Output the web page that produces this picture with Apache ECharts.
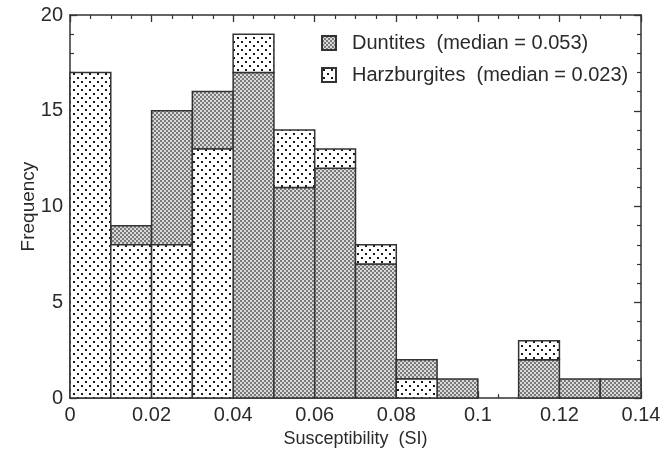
<!DOCTYPE html>
<html>
<head>
<meta charset="utf-8">
<script src="https://cdn.jsdelivr.net/npm/echarts@6/dist/echarts.min.js"></script>
<style>
  html, body { margin: 0; padding: 0; background: #fff; }
  #chart { width: 672px; height: 453px; }
</style>
</head>
<body>
<div id="chart"></div>
<script>
// histogram bins, width 0.01
var binStarts = [0, 0.01, 0.02, 0.03, 0.04, 0.05, 0.06, 0.07, 0.08, 0.09, 0.10, 0.11, 0.12, 0.13];
var binWidth = 0.01;
var duntites = [0, 1, 7, 3, 17, 11, 12, 7, 1, 1, 0, 2, 1, 1];
var harzburgites = [17, 8, 8, 13, 2, 3, 1, 1, 1, 0, 0, 1, 0, 0];
var legendNames = ['Duntites  (median = 0.053)', 'Harzburgites  (median = 0.023)'];

var font = 'Liberation Sans, Arial, Helvetica, sans-serif';
var ink = '#2a2a2a';

function makePattern(size, bg, dots) {
  var c = document.createElement('canvas');
  c.width = size; c.height = size;
  var ctx = c.getContext('2d');
  ctx.fillStyle = bg;
  ctx.fillRect(0, 0, size, size);
  dots.forEach(function (d) {
    ctx.fillStyle = d[3];
    ctx.fillRect(d[0], d[1], d[2], d[2]);
  });
  return { type: 'pattern', image: c, repeat: 'repeat' };
}

// fine grey checker for duntites
var duniteFill = makePattern(4, '#dadada', [
  [0, 0, 2, '#7a7a7a'], [2, 2, 2, '#7a7a7a']
]);
// sparse staggered dots for harzburgites
var harzFill = makePattern(8, '#ffffff', [
  [1, 1, 2, '#1a1a1a'], [5, 5, 2, '#1a1a1a']
]);

// larger group sits at the bottom of each bar
function segments(which) {
  var out = [];
  binStarts.forEach(function (x0, i) {
    var d = duntites[i], h = harzburgites[i];
    var hBottom = h >= d;
    var base, v;
    if (which === 'd') { v = d; base = hBottom ? h : 0; }
    else { v = h; base = hBottom ? 0 : d; }
    if (v > 0) out.push([x0, x0 + binWidth, base, base + v]);
  });
  return out;
}

function renderBar(fill) {
  return function (params, api) {
    var p0 = api.coord([api.value(0), api.value(2)]);
    var p1 = api.coord([api.value(1), api.value(3)]);
    return {
      type: 'rect',
      shape: { x: p0[0], y: p1[1], width: p1[0] - p0[0], height: p0[1] - p1[1] },
      style: { fill: fill, stroke: '#333', lineWidth: 1.5 }
    };
  };
}

function axisCommon(extra, split) {
  var base = {
    type: 'value',
    axisLine: { show: true, onZero: false, lineStyle: { color: '#333', width: 1.5 } },
    axisTick: { show: true, inside: true, length: 7, lineStyle: { color: '#333', width: 1.3 } },
    minorTick: { show: true, splitNumber: split, length: 4, lineStyle: { color: '#333', width: 1.2 } },
    splitLine: { show: false },
    minorSplitLine: { show: false },
    axisLabel: { show: false }
  };
  return Object.assign(base, extra);
}

var xLabel = { show: true, fontSize: 20, color: ink, fontFamily: font, margin: 7,
  formatter: function (v) { return String(+v.toFixed(2)); } };
var yLabel = { show: true, fontSize: 20, color: ink, fontFamily: font, margin: 7 };

var chart = echarts.init(document.getElementById('chart'), null, { renderer: 'canvas' });
chart.setOption({
  animation: false,
  backgroundColor: '#fff',
  grid: { left: 70, right: 31, top: 15, bottom: 48 },
  legend: {
    left: 316, top: 28,
    orient: 'vertical',
    itemWidth: 14, itemHeight: 14, itemGap: 12,
    icon: 'rect',
    textStyle: { fontSize: 20, color: ink, fontFamily: font, padding: [0, 0, 0, 11] },
    data: legendNames
  },
  xAxis: [
    axisCommon({ min: 0, max: 0.14, interval: 0.02, position: 'bottom',
      axisLabel: xLabel,
      name: 'Susceptibility  (SI)', nameLocation: 'middle', nameGap: 26,
      nameTextStyle: { fontSize: 18, color: ink, fontFamily: font } }, 4),
    axisCommon({ min: 0, max: 0.14, interval: 0.02, position: 'top' }, 4)
  ],
  yAxis: [
    axisCommon({ min: 0, max: 20, interval: 5, position: 'left',
      axisLabel: yLabel,
      name: 'Frequency', nameLocation: 'middle', nameGap: 32, nameMoveOverlap: false,
      nameTextStyle: { fontSize: 19, color: ink, fontFamily: font } }, 5),
    axisCommon({ min: 0, max: 20, interval: 5, position: 'right' }, 5)
  ],
  series: [
    {
      name: legendNames[0],
      type: 'custom',
      xAxisIndex: 0, yAxisIndex: 0,
      itemStyle: { color: duniteFill, borderColor: '#333', borderWidth: 1.5 },
      encode: { x: [0, 1], y: [2, 3] },
      renderItem: renderBar(duniteFill),
      data: segments('d')
    },
    {
      name: legendNames[1],
      type: 'custom',
      xAxisIndex: 0, yAxisIndex: 0,
      itemStyle: { color: harzFill, borderColor: '#333', borderWidth: 1.5 },
      encode: { x: [0, 1], y: [2, 3] },
      renderItem: renderBar(harzFill),
      data: segments('h')
    }
  ]
});
</script>
</body>
</html>
